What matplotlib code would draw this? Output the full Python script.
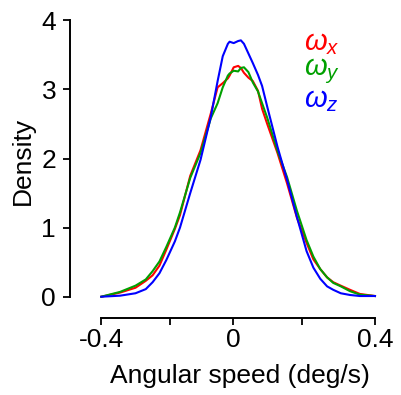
import numpy as np
import matplotlib
matplotlib.use('Agg')
import matplotlib.pyplot as plt

plt.rcParams['font.family'] = ['Liberation Sans', 'DejaVu Sans']
plt.rcParams['mathtext.fontset'] = 'custom'
plt.rcParams['mathtext.rm'] = 'Liberation Sans'
plt.rcParams['mathtext.it'] = 'Liberation Sans:italic'

# angular speed grid (deg/s)
speed = [-0.40, -0.345, -0.30, -0.27, -0.25, -0.23, -0.21, -0.185, -0.17, -0.14,
         -0.11, -0.08, -0.06, -0.045, -0.03, -0.025, -0.013, 0.00, 0.008, 0.017,
         0.03, 0.043, 0.058, 0.07, 0.085, 0.115, 0.143, 0.172, 0.20, 0.22,
         0.24, 0.26, 0.278, 0.30, 0.327, 0.356, 0.40]

dens_x = [0.00, 0.06, 0.13, 0.23, 0.31, 0.45, 0.68, 0.98, 1.18, 1.75,
          2.12, 2.65, 3.03, 3.09, 3.16, 3.20, 3.32, 3.34, 3.31, 3.24,
          3.17, 3.12, 2.98, 2.72, 2.50, 2.08, 1.64, 1.14, 0.78, 0.54,
          0.40, 0.28, 0.21, 0.16, 0.10, 0.04, 0.01]

dens_y = [0.00, 0.07, 0.16, 0.25, 0.37, 0.51, 0.72, 1.00, 1.22, 1.72,
          2.08, 2.58, 2.80, 3.03, 3.20, 3.23, 3.27, 3.26, 3.31, 3.32,
          3.25, 3.10, 2.97, 2.80, 2.59, 2.11, 1.73, 1.24, 0.82, 0.58,
          0.40, 0.28, 0.20, 0.15, 0.08, 0.03, 0.01]

dens_z = [0.00, 0.015, 0.05, 0.11, 0.21, 0.34, 0.53, 0.80, 1.00, 1.50,
          1.98, 2.60, 3.12, 3.48, 3.66, 3.69, 3.67, 3.70, 3.71, 3.66,
          3.52, 3.38, 3.21, 3.05, 2.75, 2.17, 1.69, 1.15, 0.66, 0.42,
          0.26, 0.15, 0.10, 0.05, 0.025, 0.01, 0.01]

series = [(dens_x, 'red', r'$\omega_x$'),
          (dens_y, '#00a000', r'$\omega_y$'),
          (dens_z, 'blue', r'$\omega_z$')]

xticks = [-0.4, -0.2, -0.015, 0.186, 0.4]
xticklabels = ['-0.4', '', '0', '', '0.4']
yticks = [0, 1, 2, 3, 4]

fig = plt.figure(figsize=(4.01, 3.95), dpi=100)
ax = fig.add_axes([70/401, 77/395, 308.4/401, 297.7/395])

for dens, col, lab in series:
    ax.plot(speed, dens, color=col, lw=1.5)

ax.set_xlim(-0.4915, 0.41)
ax.set_ylim(-0.308, 4.0)
ax.spines['top'].set_visible(False)
ax.spines['right'].set_visible(False)
ax.spines['left'].set_bounds(0, 4)
ax.spines['bottom'].set_bounds(-0.4, 0.4)
for s in ['left', 'bottom']:
    ax.spines[s].set_linewidth(1.4)
ax.set_xticks(xticks)
ax.set_xticklabels(xticklabels)
ax.set_yticks(yticks)
ax.tick_params(labelsize=19, width=1.3, length=5, direction='out')
ax.tick_params(axis='y', pad=5)
ax.tick_params(axis='x', pad=2)
ax.set_xlabel('Angular speed (deg/s)', fontsize=19)
ax.set_ylabel('Density', fontsize=19)
ax.xaxis.set_label_coords(0.551, -0.155)
ax.yaxis.set_label_coords(-0.115, 0.526)

for i, (dens, col, lab) in enumerate(series):
    fig.text(304/401, 1 - (43 + 28.5*i)/395, lab, color=col, fontsize=21,
             va='center', ha='left')

fig.savefig('out.png', dpi=100)
